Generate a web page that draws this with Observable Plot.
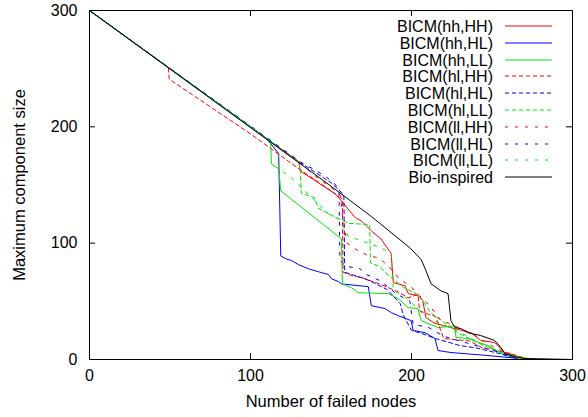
<!DOCTYPE html>
<html>
<head>
<meta charset="utf-8">
<script src="https://cdn.jsdelivr.net/npm/d3@7"></script>
<script src="https://cdn.jsdelivr.net/npm/@observablehq/plot@0.6"></script>
<style>
  html, body { margin: 0; padding: 0; background: #fff; }
  #wrap { position: relative; width: 588px; height: 417px; font-family: "Liberation Sans", Arial, sans-serif; }
  #legend { position: absolute; left: 0; top: 0; }
</style>
</head>
<body>
<div id="wrap"></div>
<script>
// ---- Data ----
const xTicks = [0, 100, 200, 300];
const yTicks = [0, 100, 200, 300];
const xLabel = "Number of failed nodes";
const yLabel = "Maximum component size";

const seriesNames = ["BICM(hh,HH)", "BICM(hh,HL)", "BICM(hh,LL)", "BICM(hl,HH)", "BICM(hl,HL)", "BICM(hl,LL)", "BICM(ll,HH)", "BICM(ll,HL)", "BICM(ll,LL)", "Bio-inspired"];

const hhHH_x = [0, 130, 131, 153, 165, 169, 175, 181, 187.4, 188.7, 191.7, 196, 198, 204, 207, 209, 214.6, 224.5, 237, 243, 251.7, 258, 270.3];
const hhHH_y = [300, 170, 162, 142, 122, 119, 110.6, 103.7, 91, 66, 65, 63.4, 56.6, 55, 50.6, 36, 31, 27.4, 23, 16.3, 14.6, 6, 1];

const hhHL_x = [0, 110, 117.5, 118.8, 121.9, 125.6, 130, 136, 142.3, 148.5, 150.3, 154.6, 156.5, 173.2, 175, 183.7, 187.4, 191.7, 199.8, 201, 208.5, 214.6, 216.5, 224.5, 247.4, 266];
const hhHL_y = [300, 190, 177, 89, 86.6, 85, 81.4, 78, 75.4, 73, 69.4, 67, 65, 62.6, 46.3, 43.7, 40.3, 37.7, 33.4, 25, 23, 18, 7.7, 6, 3.4, 1];

const hhLL_x = [0, 112.5, 113, 117.5, 118.8, 156.5, 157.1, 162.7, 167, 185.6, 191.7, 197.9, 204, 206, 216.5, 227, 227.6, 235, 247.4, 258, 270.3];
const hhLL_y = [300, 187.5, 168, 163.7, 145, 103.7, 65, 61.7, 57.4, 56.6, 52.3, 44.6, 43.7, 33.4, 27.4, 29, 19, 18, 12, 3.4, 1];

const hlHH_x = [0, 49, 49.5, 100, 130, 150, 157, 157.5, 163, 170, 180, 192, 198, 204, 205, 210, 215, 220, 236, 244, 262, 270];
const hlHH_y = [300, 251, 241, 194, 164, 145, 138, 75, 72, 70, 65, 58, 53, 56, 42, 39, 37, 18, 16, 10, 5, 1];

const hlHL_x = [0, 130, 140, 150, 157, 158, 158.5, 163, 170, 175, 185, 193, 195, 200, 205, 215, 230, 240, 255, 265];
const hlHL_y = [300, 170, 161, 152, 143, 140, 75, 73, 70, 67, 60, 48, 38, 25, 23, 18, 12, 10, 5, 1];

const hlLL_x = [0, 130, 131, 131.5, 140, 142, 148, 153, 161, 174, 174.5, 180, 186, 195, 205, 212, 220, 230, 245, 258, 272];
const hlLL_y = [300, 170, 162, 143, 139, 130, 126, 122, 117, 116, 83, 80, 72, 62, 55, 40, 32, 22, 12, 5, 1];

const llHH_x = [0, 130, 140, 150, 156, 157, 160, 165, 172, 180, 186, 192, 200, 205, 212, 218, 225, 238, 248, 258, 270];
const llHH_y = [300, 170, 158, 148, 141, 125, 100, 95, 90, 87, 80, 70, 62, 55, 45, 34, 30, 22, 13, 6, 1];

const llHL_x = [0, 132, 140, 148, 153, 155, 155.5, 160, 168, 172, 180, 186, 190, 199, 201, 210, 220, 230, 245, 255, 265];
const llHL_y = [300, 169, 163, 156, 150, 144, 85, 80, 78, 73, 68, 62, 57, 50, 30, 28, 20, 16, 10, 6, 1];

const llLL_x = [0, 117, 117.5, 125.6, 148.5, 154.6, 160.8, 169, 175, 181, 187.4, 188.7, 195, 203, 210, 220, 232, 245, 256, 268];
const llLL_y = [300, 183, 164, 156, 125, 121, 106, 102, 99, 96, 91, 59, 55, 45, 35, 30, 22, 12, 6, 1];

const bio_x = [0, 150, 175, 199, 206, 208.5, 212.2, 218.3, 222.7, 224.5, 227, 230.7, 235, 243, 251.7, 255.5, 258, 266, 270.3, 300];
const bio_y = [300, 149, 123, 96, 86, 78, 65, 59, 56.6, 33.4, 27.4, 26.6, 23, 20.6, 16.3, 10.3, 5, 1.7, 0.9, 0];

const seriesX = [hhHH_x, hhHL_x, hhLL_x, hlHH_x, hlHL_x, hlLL_x, llHH_x, llHL_x, llLL_x, bio_x];
const seriesY = [hhHH_y, hhHL_y, hhLL_y, hlHH_y, hlHL_y, hlLL_y, llHH_y, llHL_y, llLL_y, bio_y];

// ---- Styles ----
const colors = ["#ff0000", "#0000ff", "#00e600", "#ff0000", "#0000ff", "#00e600", "#ff0000", "#0000ff", "#00e600", "#000000"];
const dashes = [null, null, null, "4,3", "4,3", "4,3", "3,7", "3,7", "3,7", null];

const rowsFor = (i) => seriesX[i].map((x, j) => ({x, y: seriesY[i][j]}));

const W = 588, H = 417;
const mL = 89, mR = 16, mT = 10, mB = 58;
const innerW = W - mL - mR, innerH = H - mT - mB;
const tick = 6;
const FONT = "'Liberation Sans', Arial, sans-serif";

const lineMarks = seriesNames.map((name, i) =>
  Plot.line(rowsFor(i), {x: "x", y: "y", stroke: colors[i], strokeWidth: 1, strokeDasharray: dashes[i] || undefined})
);

const chart = Plot.plot({
  width: W, height: H,
  marginLeft: mL, marginRight: mR, marginTop: mT, marginBottom: mB,
  style: {fontFamily: FONT, fontSize: "16px", background: "#fff", color: "#000"},
  x: {domain: [0, 300]},
  y: {domain: [0, 300]},
  marks: [
    Plot.axisX({ticks: xTicks, tickSize: 0, tickPadding: 10, label: null, fontSize: 16}),
    Plot.axisY({ticks: yTicks, tickSize: 0, tickPadding: 12, label: null, fontSize: 16}),
    ...lineMarks,
    Plot.ruleX(xTicks, {x: d => d, insetTop: innerH - tick, stroke: "#000"}),
    Plot.ruleX(xTicks, {x: d => d, insetBottom: innerH - tick, stroke: "#000"}),
    Plot.ruleY(yTicks, {y: d => d, insetRight: innerW - tick, stroke: "#000"}),
    Plot.ruleY(yTicks, {y: d => d, insetLeft: innerW - tick, stroke: "#000"}),
    Plot.frame({stroke: "#000", strokeWidth: 1}),
    Plot.text([xLabel], {frameAnchor: "bottom", dy: 42, textAnchor: "middle", lineAnchor: "middle", fontSize: 16.5, fill: "#000"}),
    Plot.text([yLabel], {frameAnchor: "left", dx: -70, rotate: -90, textAnchor: "middle", lineAnchor: "middle", fontSize: 16.5, fill: "#000"})
  ]
});

const wrap = document.getElementById("wrap");
wrap.appendChild(chart);

// ---- Legend overlay (inside plot area, top-right) ----
const leg = d3.select(wrap).append("svg")
  .attr("id", "legend").attr("width", W).attr("height", H)
  .style("pointer-events", "none");
const rowH = 16.8, row0 = 26, textRight = 493, lx1 = 505, lx2 = 552;
seriesNames.forEach((name, i) => {
  const y = Math.round(row0 + i * rowH);
  leg.append("text")
    .attr("x", textRight).attr("y", y).attr("dy", "0.36em")
    .attr("text-anchor", "end")
    .style("font-family", FONT)
    .style("font-size", "16px")
    .text(name);
  leg.append("line")
    .attr("x1", lx1).attr("x2", lx2).attr("y1", y).attr("y2", y)
    .attr("stroke", colors[i]).attr("stroke-width", 1)
    .attr("stroke-dasharray", dashes[i]);
});
</script>
</body>
</html>
